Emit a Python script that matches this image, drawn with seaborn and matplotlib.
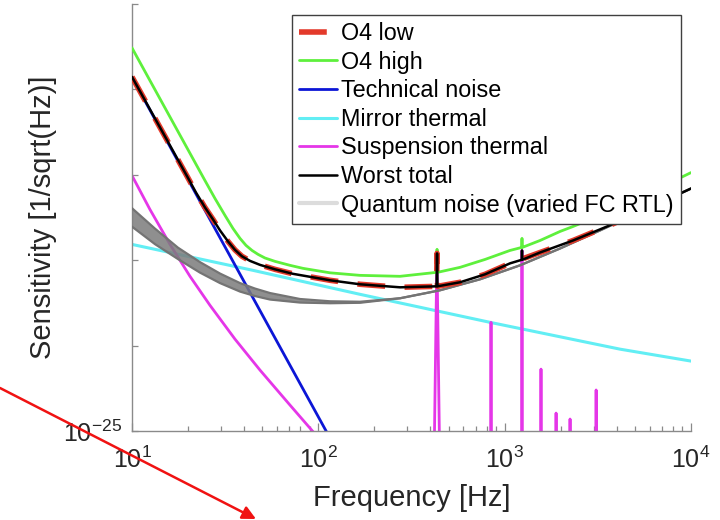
import numpy as np
import pandas as pd
import matplotlib
matplotlib.use("Agg")
import matplotlib.pyplot as plt
from matplotlib.lines import Line2D
from matplotlib.ticker import LogLocator, NullLocator
import seaborn as sns

# ---------------------------------------------------------------
# Amplitude spectral densities, 1/sqrt(Hz), versus frequency (Hz)
# ---------------------------------------------------------------
total_freq = [10, 20.0, 22.05, 24.65, 27.22, 29.68, 32.75, 35.71, 38.94, 42.99,
              48.65, 58.55, 73.14, 115.6, 167.4, 274.5, 431, 433.7, 436, 576.3,
              785, 1069, 1235, 1239, 1243, 1549, 2329, 3545, 6034, 10000]
total_asd = [1.40e-21, 9.15e-23, 6.20e-23, 4.14e-23, 3.00e-23, 2.23e-23, 1.66e-23,
             1.32e-23, 1.11e-23, 9.81e-24, 8.81e-24, 7.81e-24, 6.92e-24, 5.81e-24,
             5.22e-24, 4.81e-24, 4.94e-24, 1.20e-23, 4.94e-24, 5.51e-24, 6.83e-24,
             9.18e-24, 1.01e-23, 1.30e-23, 1.01e-23, 1.23e-23, 1.70e-23, 2.48e-23,
             4.14e-23, 6.90e-23]

low_freq = [10, 20.0, 22.05, 24.65, 27.22, 29.68, 32.75, 35.71, 38.94, 42.99,
            48.65, 58.55, 73.14, 115.6, 167.4, 274.5, 431, 433.7, 436, 576.3,
            785, 1069, 1549, 2329, 3545, 6034, 10000]
low_asd = [1.40e-21, 9.15e-23, 6.20e-23, 4.14e-23, 3.00e-23, 2.23e-23, 1.66e-23,
           1.32e-23, 1.11e-23, 9.81e-24, 8.81e-24, 7.81e-24, 6.92e-24, 5.81e-24,
           5.22e-24, 4.81e-24, 4.94e-24, 1.20e-23, 4.94e-24, 5.51e-24, 6.83e-24,
           9.18e-24, 1.23e-23, 1.70e-23, 2.48e-23, 4.14e-23, 6.90e-23]

high_freq = [10, 24.65, 27.90, 31.57, 34.84, 37.99, 40.92, 44.07, 47.46, 51.75,
             58.55, 70.47, 82.76, 115.6, 167.4, 274.5, 431, 433.7, 436, 576.3,
             785, 1069, 1235, 1239, 1243, 1549, 1984, 2329, 3545, 6034, 10000]
high_asd = [3.06e-21, 8.55e-23, 5.27e-23, 3.34e-23, 2.35e-23, 1.80e-23, 1.49e-23,
            1.30e-23, 1.17e-23, 1.06e-23, 9.68e-24, 8.70e-24, 8.02e-24, 7.11e-24,
            6.64e-24, 6.47e-24, 7.20e-24, 1.34e-23, 7.20e-24, 8.24e-24, 1.02e-23,
            1.30e-23, 1.41e-23, 1.80e-23, 1.41e-23, 1.70e-23, 2.17e-23, 2.48e-23,
            3.62e-23, 6.20e-23, 1.06e-22]

tech_freq = [10, 50, 120]
tech_asd = [1.385e-21, 2.30e-24, 7.10e-26]

mirror_freq = [10, 44.6, 167.6, 835, 4158, 10000]
mirror_asd = [1.53e-23, 7.60e-24, 3.98e-24, 1.87e-24, 9.08e-25, 6.58e-25]

susp_freq = [10, 12.49, 16.00, 20.48, 26.22, 35.71, 48.65, 70.47, 96.0]
susp_asd = [9.79e-23, 3.92e-23, 1.53e-23, 6.47e-24, 2.96e-24, 1.19e-24, 5.16e-25,
            2.01e-25, 9.23e-26]
# violin-mode resonances of the suspension
res_freq = [433, 845, 1239, 1567, 1888, 2244, 3097]
res_peak = [1.20e-23, 1.87e-24, 1.30e-23, 5.30e-25, 1.62e-25, 1.38e-25, 3.02e-25]
res_floor = 1e-27

qn_freq = [10, 13.29, 17.66, 23.17, 29.68, 37.99, 45.74, 55.06, 79.74, 115.6,
           167.4, 274.5, 450.2, 738.0, 1209, 1984, 3252, 5670, 10000]
qn_upper = [4.06e-23, 2.34e-23, 1.40e-23, 9.49e-24, 6.97e-24, 5.39e-24, 4.65e-24,
            4.12e-24, 3.51e-24, 3.30e-24, 3.26e-24, 3.58e-24, 4.44e-24, 5.97e-24,
            8.70e-24, 1.37e-23, 2.23e-23, 3.92e-23, 6.90e-23]
qn_lower = [2.47e-23, 1.54e-23, 1.03e-23, 7.15e-24, 5.39e-24, 4.29e-24, 3.80e-24,
            3.46e-24, 3.19e-24, 3.13e-24, 3.17e-24, 3.58e-24, 4.44e-24, 5.97e-24,
            8.70e-24, 1.37e-23, 2.23e-23, 3.92e-23, 6.90e-23]

x_ticks = [10, 100, 1000, 10000]
x_tick_labels = [r"$10^{1}$", r"$10^{2}$", r"$10^{3}$", r"$10^{4}$"]
y_ticks = [1e-25, 1e-24, 1e-23, 1e-22, 1e-21, 1e-20]
y_tick_labels = [r"$10^{-25}$", "", "", "", "", ""]

# ---------------------------------------------------------------
sns.set_theme(style="white")
plt.rcParams["font.family"] = ["Liberation Sans", "DejaVu Sans"]
plt.rcParams["mathtext.fontset"] = "custom"
plt.rcParams["mathtext.rm"] = "Liberation Sans"
plt.rcParams["mathtext.it"] = "Liberation Sans:italic"
plt.rcParams["mathtext.bf"] = "Liberation Sans:bold"

TEXT = "#262626"
AXC = "#8a8a8a"
C_LOW, C_HIGH, C_TECH = "#e33a2b", "#5ef03c", "#0c16d6"
C_MIRROR, C_SUSP, C_QN = "#62eef4", "#e536e8", "#747474"

fig = plt.figure(figsize=(7.2, 5.2), dpi=100)
ax = fig.add_axes([0.1833, 0.1712, 0.7764, 0.8212])
ax.set_xscale("log")
ax.set_yscale("log")


def frame(freq, asd):
    return pd.DataFrame({"freq": freq, "asd": asd})


# suspension thermal: smooth part followed by narrow resonance lines
spread = [1.06, 1.008, 1.008, 1.008, 1.008, 1.008, 1.008]
s_f, s_v = list(susp_freq), list(susp_asd)
for f, p, w in zip(res_freq, res_peak, spread):
    s_f += [f / w, f, f * w]
    s_v += [res_floor, p, res_floor]

common = dict(ax=ax, x="freq", y="asd", estimator=None, sort=False, legend=False)

sns.lineplot(data=frame(mirror_freq, mirror_asd), color=C_MIRROR, lw=2.2, zorder=2, **common)
sns.lineplot(data=frame(s_f, s_v), color=C_SUSP, lw=2.0, zorder=2, **common)
sns.lineplot(data=frame(tech_freq, tech_asd), color=C_TECH, lw=2.0, zorder=2, **common)

# quantum noise band for the varied filter-cavity round-trip loss
ax.fill_between(qn_freq, qn_lower, qn_upper, color="#7c7c7c", alpha=0.85,
                lw=0, zorder=3)
sns.lineplot(data=frame(qn_freq, qn_upper), color=C_QN, lw=1.6, zorder=3, **common)
sns.lineplot(data=frame(qn_freq, qn_lower), color=C_QN, lw=1.6, zorder=3, **common)

sns.lineplot(data=frame(high_freq, high_asd), color=C_HIGH, lw=2.0, zorder=4, **common)
sns.lineplot(data=frame(low_freq, low_asd), color=C_LOW, lw=4.0,
             linestyle=(0, (5.0, 3.5)), zorder=5, **common)
sns.lineplot(data=frame(total_freq, total_asd), color="black", lw=1.8, zorder=6, **common)

ax.set_xlim(10, 1e4)
ax.set_ylim(1e-25, 1e-20)
ax.set_xticks(x_ticks)
ax.set_xticklabels(x_tick_labels)
ax.xaxis.set_minor_locator(LogLocator(base=10, subs=np.arange(2, 10)))
ax.set_yticks(y_ticks)
ax.set_yticklabels(y_tick_labels)
ax.yaxis.set_minor_locator(NullLocator())

ax.tick_params(axis="x", which="major", direction="in", length=5.5, width=0.9,
               color=AXC, labelsize=18, labelcolor=TEXT, pad=11)
ax.tick_params(axis="x", which="minor", direction="in", length=3.5, width=0.9,
               color=AXC)
ax.tick_params(axis="y", which="major", direction="in", length=4, width=0.9,
               color=AXC, labelsize=18, labelcolor=TEXT, pad=7)
ax.tick_params(axis="both", which="both", bottom=True, left=True, top=False, right=False)

for side in ("top", "right"):
    ax.spines[side].set_visible(False)
for side in ("left", "bottom"):
    ax.spines[side].set_color(AXC)
    ax.spines[side].set_linewidth(1.0)

ax.set_xlabel("Frequency [Hz]", fontsize=21, color=TEXT)
ax.set_ylabel("Sensitivity [1/sqrt(Hz)]", fontsize=21, color=TEXT)
ax.xaxis.set_label_coords(0.5, -0.125)
ax.yaxis.set_label_coords(-0.134, 0.5)

handles = [
    Line2D([], [], color=C_LOW, lw=4.0, linestyle=(0, (5.0, 3.5))),
    Line2D([], [], color=C_HIGH, lw=2.0),
    Line2D([], [], color=C_TECH, lw=2.0),
    Line2D([], [], color=C_MIRROR, lw=2.2),
    Line2D([], [], color=C_SUSP, lw=2.0),
    Line2D([], [], color="black", lw=1.8),
    Line2D([], [], color="#dcdcdc", lw=3.0),
]
labels = ["O4 low", "O4 high", "Technical noise", "Mirror thermal",
          "Suspension thermal", "Worst total", "Quantum noise (varied FC RTL)"]
leg = ax.legend(handles, labels, loc="upper right",
                bbox_to_anchor=(681 / 720, 505 / 520), bbox_transform=fig.transFigure,
                borderaxespad=0, fontsize=16.8, handlelength=1.65, handletextpad=0.17,
                labelspacing=0.24, borderpad=0.3, frameon=True, fancybox=False,
                framealpha=1.0)
leg.get_frame().set_edgecolor("#404040")
leg.get_frame().set_linewidth(1.0)
leg.set_zorder(10)
for t in leg.get_texts():
    t.set_color("black")

# pointer arrow across the lower-left corner
ax.annotate("", xy=(256 / 720, 1 / 520), xytext=(0.0, 132 / 520),
            xycoords="figure fraction", textcoords="figure fraction",
            arrowprops=dict(arrowstyle="-|>", color="#f01212", lw=1.8,
                            mutation_scale=20, shrinkA=0, shrinkB=0),
            annotation_clip=False)

fig.savefig("out.png", dpi=100)
